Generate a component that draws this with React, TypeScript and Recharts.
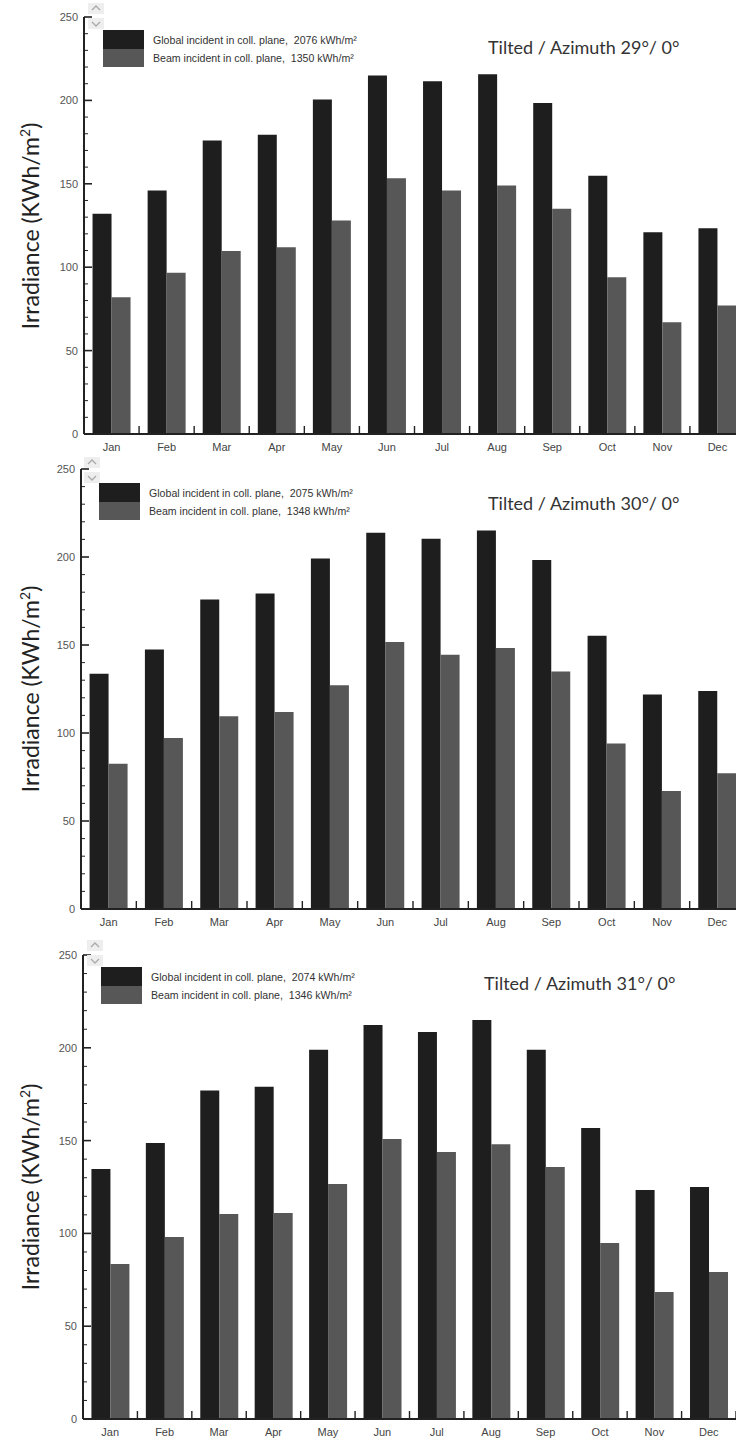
import { Bar, BarChart, Legend, XAxis, YAxis } from "recharts";

const months = ["Jan", "Feb", "Mar", "Apr", "May", "Jun", "Jul", "Aug", "Sep", "Oct", "Nov", "Dec"];
const global29 = [132, 146, 176, 179.4, 200.5, 215, 211.5, 215.7, 198.5, 154.8, 121, 123.4];
const beam29 = [82, 96.7, 109.7, 112, 128, 153.4, 146, 149, 135, 94, 67, 77];
const global30 = [133.7, 147.4, 175.9, 179.3, 199.1, 213.8, 210.3, 215, 198.3, 155.3, 121.9, 123.8];
const beam30 = [82.5, 97.1, 109.5, 112, 127.2, 151.7, 144.5, 148.3, 135, 94.1, 67, 77.2];
const global31 = [134.7, 148.7, 177, 179, 199, 212.3, 208.5, 215, 199, 156.8, 123.4, 125];
const beam31 = [83.5, 98, 110.5, 111, 126.6, 150.9, 143.9, 148, 135.8, 94.8, 68.4, 79.2];
const yTicks = [0, 10, 20, 30, 40, 50, 60, 70, 80, 90, 100, 110, 120, 130, 140, 150, 160, 170, 180, 190, 200, 210, 220, 230, 240, 250];
const tilts = [29, 30, 31];
const globalTotals = [2076, 2075, 2074];
const beamTotals = [1350, 1348, 1346];

const BLACK = "#1e1e1e";
const GREY = "#575757";
const AXIS = "#222";
const sans = "'Liberation Sans', Arial, sans-serif";

type Layout = {
  plotLeft: number;
  plotTop: number;
  plotBottom: number;
  plotWidth: number;
  legendX: number;
  legendY: number;
  titleX: number;
  titleY: number;
  arrowX: number;
  arrowY: number;
};

const layouts: Layout[] = [
  { plotLeft: 84, plotTop: 17, plotBottom: 434, plotWidth: 661, legendX: 103, legendY: 30, titleX: 488, titleY: 47, arrowX: 88, arrowY: 3 },
  { plotLeft: 81, plotTop: 469, plotBottom: 909, plotWidth: 664, legendX: 99, legendY: 483, titleX: 488, titleY: 503, arrowX: 84, arrowY: 457 },
  { plotLeft: 83, plotTop: 955, plotBottom: 1419, plotWidth: 653, legendX: 101, legendY: 967, titleX: 484, titleY: 983, arrowX: 87, arrowY: 940 }
];

const makeYTick = (side: "left" | "right") => (props: any) => {
  const { x, y, payload } = props;
  const v = payload.value as number;
  const major = v % 50 === 0;
  const len = major ? 8 : 4;
  const dir = side === "left" ? 1 : -1;
  return (
    <g>
      <line x1={x} x2={x + dir * len} y1={y} y2={y} stroke={AXIS} strokeWidth={major ? 1.6 : 1} />
      {side === "left" && major ? (
        <text x={x - 6} y={y} dy={4} textAnchor="end" fontSize={11} fill="#555" fontFamily={sans}>
          {v}
        </text>
      ) : null}
    </g>
  );
};

const makeXTick = (bw: number, pos: "bottom" | "top") => (props: any) => {
  const { x, y, payload } = props;
  const bx = x + bw / 2;
  const dir = pos === "bottom" ? -1 : 1;
  return (
    <g>
      <line x1={bx} x2={bx} y1={y} y2={y + dir * 8} stroke={AXIS} strokeWidth={1.4} />
      {pos === "bottom" ? (
        <text x={x} y={y + 17} textAnchor="middle" fontSize={11} fill="#444" fontFamily={sans}>
          {payload.value}
        </text>
      ) : null}
    </g>
  );
};

function LegendBox({ total1, total2 }: { total1: number; total2: number }) {
  return (
    <div style={{ display: "flex", alignItems: "center", fontFamily: sans, fontSize: 10.6, color: "#333" }}>
      <div style={{ width: 41, height: 37, marginRight: 9 }}>
        <div style={{ height: "50%", background: BLACK }} />
        <div style={{ height: "50%", background: GREY }} />
      </div>
      <div style={{ lineHeight: "18px", whiteSpace: "nowrap" }}>
        <div>Global incident in coll. plane,&nbsp; {total1} kWh/m²</div>
        <div>Beam incident in coll. plane,&nbsp; {total2} kWh/m²</div>
      </div>
    </div>
  );
}

function Arrows({ x, y }: { x: number; y: number }) {
  return (
    <div style={{ position: "absolute", left: x, top: y, width: 16 }}>
      <svg width={16} height={26}>
        <rect x={0} y={0} width={16} height={11} fill="#eeeeee" />
        <polyline points="4,7 8,3 12,7" fill="none" stroke="#aaa" strokeWidth={1.3} />
        <rect x={0} y={15} width={16} height={11} fill="#eeeeee" />
        <polyline points="4,19 8,23 12,19" fill="none" stroke="#aaa" strokeWidth={1.3} />
      </svg>
    </div>
  );
}

function Panel({ idx, globalVals, beamVals }: { idx: number; globalVals: number[]; beamVals: number[] }) {
  const L = layouts[idx];
  const data = months.map((m, i) => ({ month: m, global: globalVals[i], beam: beamVals[i] }));
  const top = 12;
  const chartTop = L.plotTop - top;
  const plotH = L.plotBottom - L.plotTop;
  const width = L.plotLeft + L.plotWidth + 10;
  const height = top + plotH + 30;
  const bw = L.plotWidth / months.length;
  return (
    <>
      <div style={{ position: "absolute", left: 0, top: chartTop }}>
        <BarChart
          width={width}
          height={height}
          data={data}
          margin={{ top, right: 10, left: 0, bottom: 0 }}
          barCategoryGap="15.5%"
          barGap={0}
        >
          <XAxis
            dataKey="month"
            height={30}
            interval={0}
            axisLine={{ stroke: AXIS, strokeWidth: 2 }}
            tickLine={false}
            tickSize={0}
            tickMargin={0}
            tick={makeXTick(bw, "bottom")}
          />
          <XAxis
            xAxisId="top"
            dataKey="month"
            orientation="top"
            height={0}
            interval={0}
            axisLine={{ stroke: AXIS, strokeWidth: 2 }}
            tickLine={false}
            tickSize={0}
            tickMargin={0}
            tick={makeXTick(bw, "top")}
          />
          <YAxis
            width={L.plotLeft}
            domain={[0, 250]}
            ticks={yTicks}
            interval={0}
            allowDataOverflow
            axisLine={{ stroke: AXIS, strokeWidth: 2 }}
            tickLine={false}
            tickSize={0}
            tickMargin={0}
            tick={makeYTick("left")}
          />
          <YAxis
            yAxisId="right"
            orientation="right"
            width={0}
            domain={[0, 250]}
            ticks={yTicks}
            interval={0}
            axisLine={{ stroke: AXIS, strokeWidth: 2 }}
            tickLine={false}
            tickSize={0}
            tickMargin={0}
            tick={makeYTick("right")}
          />
          <Legend
            layout="horizontal"
            verticalAlign="middle"
            align="center"
            wrapperStyle={{ left: L.legendX, top: L.legendY - chartTop, width: "auto" }}
            content={() => <LegendBox total1={globalTotals[idx]} total2={beamTotals[idx]} />}
          />
          <Bar dataKey="global" fill={BLACK} isAnimationActive={false} />
          <Bar dataKey="beam" fill={GREY} isAnimationActive={false} />
        </BarChart>
      </div>
      <Arrows x={L.arrowX} y={L.arrowY} />
      <div
        style={{
          position: "absolute",
          left: L.titleX,
          top: L.titleY,
          transform: "translateY(-50%)",
          fontFamily: "Lato, 'Open Sans', sans-serif",
          fontSize: 18,
          color: "#333",
          whiteSpace: "nowrap"
        }}
      >
        Tilted / Azimuth {tilts[idx]}°/ 0°
      </div>
      <div
        style={{
          position: "absolute",
          left: 30,
          top: (L.plotTop + L.plotBottom) / 2,
          transform: "translate(-50%, -50%) rotate(-90deg)",
          fontFamily: "Lato, 'Open Sans', sans-serif",
          fontSize: 23,
          color: "#222",
          whiteSpace: "nowrap"
        }}
      >
        Irradiance (KWh/m<sup style={{ fontSize: 14 }}>2</sup>)
      </div>
    </>
  );
}

export default function App() {
  return (
    <div style={{ position: "absolute", left: 0, top: 0, width: 736, height: 1441, overflow: "hidden", background: "#fff" }}>
      <Panel idx={0} globalVals={global29} beamVals={beam29} />
      <Panel idx={1} globalVals={global30} beamVals={beam30} />
      <Panel idx={2} globalVals={global31} beamVals={beam31} />
    </div>
  );
}
